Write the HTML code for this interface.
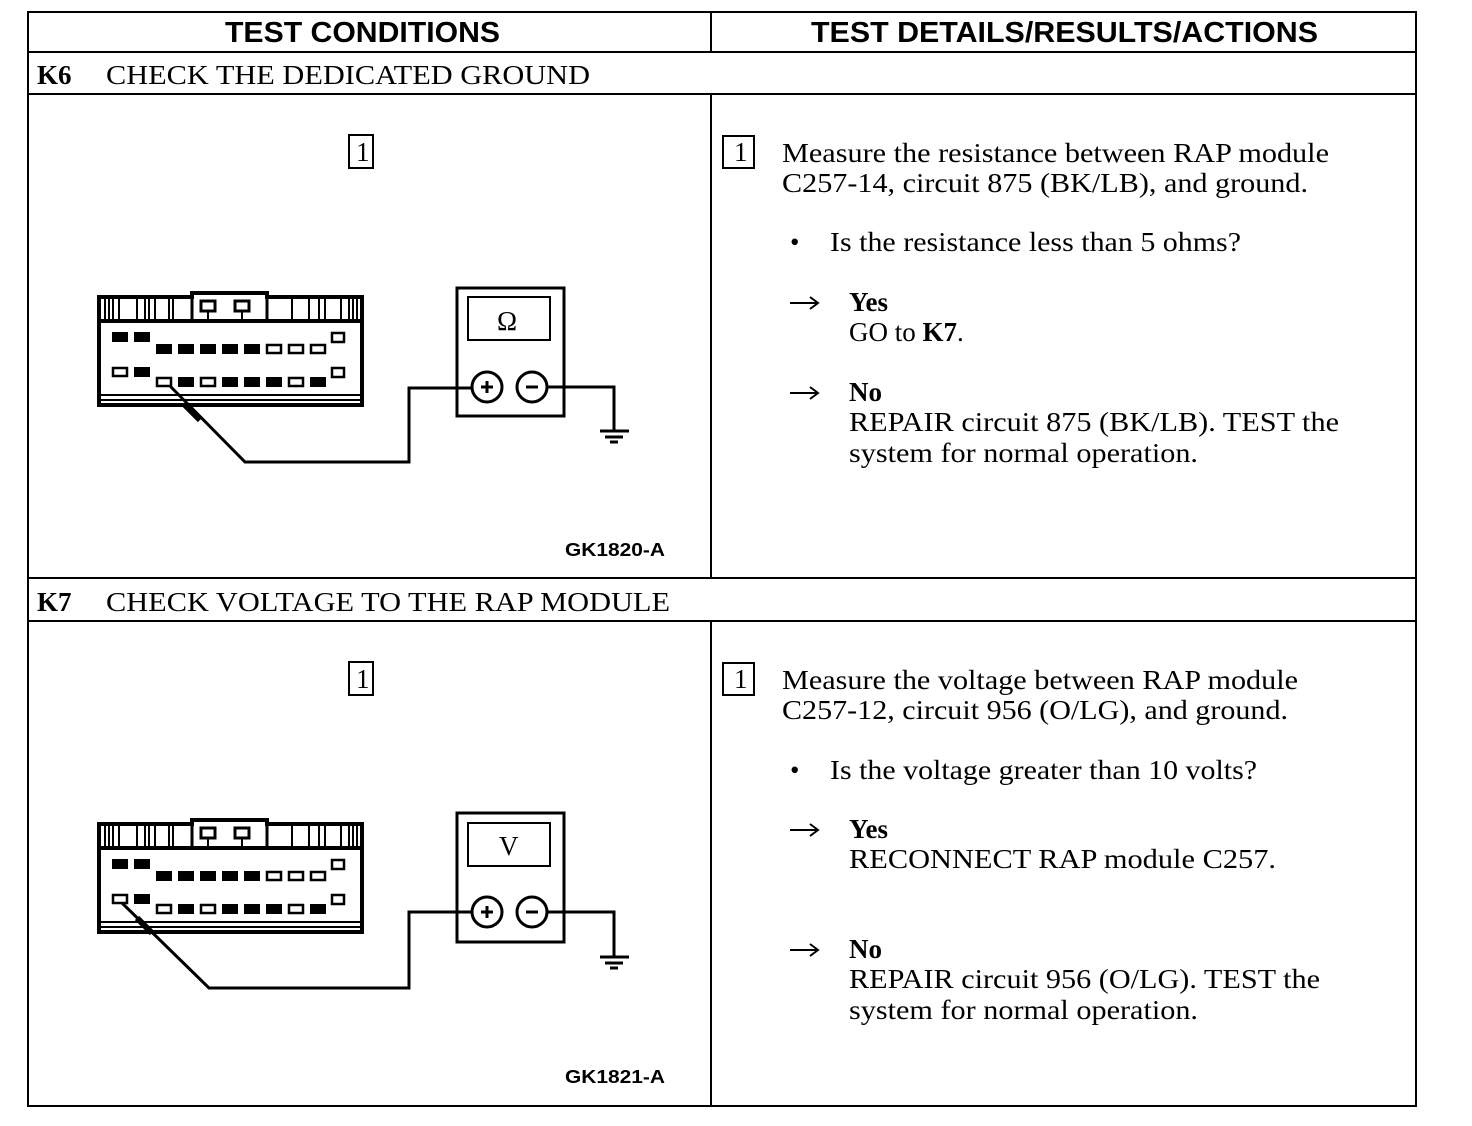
<!DOCTYPE html>
<html><head><meta charset="utf-8"><style>
html,body{margin:0;padding:0;background:#fff;}
svg{display:block;}
.s{font-family:"Liberation Serif",serif;font-size:27px;fill:#000;}
.h{font-family:"Liberation Sans",sans-serif;font-weight:bold;font-size:29px;fill:#000;}
.g{font-family:"Liberation Sans",sans-serif;font-weight:bold;font-size:18px;fill:#000;}
</style></head><body>
<svg width="1472" height="1126" viewBox="0 0 1472 1126" xmlns="http://www.w3.org/2000/svg">
<defs>
<g id="conn">
  <path d="M2 28 V4 H95 V0 H170 V4 H265 V28" fill="none" stroke="#000" stroke-width="4"/>
  <path d="M95 0 V28 M170 0 V28" stroke="#000" stroke-width="3"/>
  <rect x="104" y="8" width="14" height="10" fill="none" stroke="#000" stroke-width="3"/>
  <rect x="138" y="8" width="14" height="10" fill="none" stroke="#000" stroke-width="3"/>
  <path d="M111 18 V27 H145 V18" fill="none" stroke="#000" stroke-width="2"/>
  <path d="M8 6 V26 M12 6 V26 M16 6 V26 M22 6 V26 M40 6 V26 M48 6 V26 M52 6 V26 M58 6 V26 M72 6 V26 M76 6 V26 M195 6 V26 M212 6 V26 M222 6 V26 M228 6 V26 M244 6 V26 M252 6 V26 M256 6 V26 M260 6 V26" stroke="#000" stroke-width="2"/>
  <rect x="2" y="28" width="263" height="84" fill="none" stroke="#000" stroke-width="4"/>
  <path d="M2 102 H265 M2 107 H265" stroke="#000" stroke-width="2"/>
</g>
<g id="arr"><path d="M0 0 H28 M20 -6 L28 0 L20 6" fill="none" stroke="#000" stroke-width="2"/></g>
</defs>
<rect width="1472" height="1126" fill="#fff"/>
<g stroke="#000" stroke-width="2" fill="none">
  <rect x="28" y="12" width="1388" height="1094"/>
  <line x1="28" y1="52" x2="1416" y2="52"/>
  <line x1="28" y1="94" x2="1416" y2="94"/>
  <line x1="28" y1="578" x2="1416" y2="578"/>
  <line x1="28" y1="621" x2="1416" y2="621"/>
  <line x1="711" y1="12" x2="711" y2="52"/>
  <line x1="711" y1="94" x2="711" y2="578"/>
  <line x1="711" y1="621" x2="711" y2="1106"/>
</g>
<text class="h" x="225" y="42" textLength="275" lengthAdjust="spacingAndGlyphs">TEST CONDITIONS</text>
<text class="h" x="811" y="42" textLength="507" lengthAdjust="spacingAndGlyphs">TEST DETAILS/RESULTS/ACTIONS</text>
<text class="s" x="37" y="84" font-weight="bold">K6</text>
<text class="s" x="106" y="84" textLength="484" lengthAdjust="spacingAndGlyphs">CHECK THE DEDICATED GROUND</text>
<text class="s" x="37" y="611" font-weight="bold">K7</text>
<text class="s" x="106" y="611" textLength="564" lengthAdjust="spacingAndGlyphs">CHECK VOLTAGE TO THE RAP MODULE</text>

<!-- K6 left -->
<rect x="349" y="135" width="24" height="33" fill="none" stroke="#000" stroke-width="2"/>
<text class="s" x="356" y="161" font-size="20">1</text>
<g transform="translate(97,293)"><use href="#conn"/></g>
<g fill="#000">
  <rect x="112" y="332" width="16" height="10"/><rect x="134" y="332" width="16" height="10"/>
  <rect x="156" y="344" width="16" height="10"/><rect x="178" y="344" width="16" height="10"/><rect x="200" y="344" width="16" height="10"/><rect x="222" y="344" width="16" height="10"/><rect x="244" y="344" width="16" height="10"/>
  <rect x="134" y="367" width="16" height="10"/>
  <rect x="178" y="377" width="16" height="10"/><rect x="222" y="377" width="16" height="10"/><rect x="244" y="377" width="16" height="10"/><rect x="266" y="377" width="16" height="10"/><rect x="310" y="377" width="16" height="10"/>
</g>
<g fill="none" stroke="#000" stroke-width="2.5">
  <rect x="267" y="345" width="14" height="8"/><rect x="289" y="345" width="14" height="8"/><rect x="311" y="345" width="14" height="8"/>
  <rect x="332" y="333" width="12" height="9"/><rect x="332" y="368" width="12" height="9"/>
  <rect x="113" y="368" width="14" height="8"/>
  <rect x="157" y="378" width="14" height="8"/><rect x="201" y="378" width="14" height="8"/><rect x="289" y="378" width="14" height="8"/>
</g>
<path d="M170 386 L245 462 H409 V388 H472" fill="none" stroke="#000" stroke-width="3"/>
<path d="M185 405 L200 420" stroke="#000" stroke-width="6"/>
<rect x="457" y="288" width="107" height="128" fill="none" stroke="#000" stroke-width="3"/>
<rect x="468" y="297" width="82" height="43" fill="none" stroke="#000" stroke-width="2"/>
<text class="s" x="497" y="330" font-size="28">Ω</text>
<circle cx="487" cy="387" r="15" fill="none" stroke="#000" stroke-width="3"/>
<circle cx="532" cy="387" r="15" fill="none" stroke="#000" stroke-width="3"/>
<path d="M481 387 H493 M487 381 V393 M526 387 H538" stroke="#000" stroke-width="3"/>
<path d="M547 387 H614 V431" fill="none" stroke="#000" stroke-width="3"/>
<path d="M600 431 H629 M605 437 H623 M610 442 H618" stroke="#000" stroke-width="3"/>
<text class="g" x="565" y="556" textLength="100" lengthAdjust="spacingAndGlyphs">GK1820-A</text>

<!-- K6 right -->
<rect x="723" y="136" width="31" height="32" fill="none" stroke="#000" stroke-width="2"/>
<text class="s" x="734" y="161" font-size="20">1</text>
<text class="s" x="782" y="162" textLength="547" lengthAdjust="spacingAndGlyphs">Measure the resistance between RAP module</text>
<text class="s" x="782" y="192" textLength="526" lengthAdjust="spacingAndGlyphs">C257-14, circuit 875 (BK/LB), and ground.</text>
<text class="s" x="790" y="251">•</text>
<text class="s" x="830" y="251" textLength="411" lengthAdjust="spacingAndGlyphs">Is the resistance less than 5 ohms?</text>
<use href="#arr" transform="translate(790,303)"/>
<text class="s" x="849" y="311" font-weight="bold">Yes</text>
<text class="s" x="849" y="341">GO to <tspan font-weight="bold">K7</tspan>.</text>
<use href="#arr" transform="translate(790,393)"/>
<text class="s" x="849" y="401" font-weight="bold">No</text>
<text class="s" x="849" y="431" textLength="490" lengthAdjust="spacingAndGlyphs">REPAIR circuit 875 (BK/LB). TEST the</text>
<text class="s" x="849" y="462" textLength="349" lengthAdjust="spacingAndGlyphs">system for normal operation.</text>

<!-- K7 left -->
<rect x="349" y="662" width="24" height="33" fill="none" stroke="#000" stroke-width="2"/>
<text class="s" x="356" y="688" font-size="20">1</text>
<g transform="translate(97,820)"><use href="#conn"/></g>
<g fill="#000">
  <rect x="112" y="859" width="16" height="10"/><rect x="134" y="859" width="16" height="10"/>
  <rect x="156" y="871" width="16" height="10"/><rect x="178" y="871" width="16" height="10"/><rect x="200" y="871" width="16" height="10"/><rect x="222" y="871" width="16" height="10"/><rect x="244" y="871" width="16" height="10"/>
  <rect x="134" y="894" width="16" height="10"/>
  <rect x="178" y="904" width="16" height="10"/><rect x="222" y="904" width="16" height="10"/><rect x="244" y="904" width="16" height="10"/><rect x="266" y="904" width="16" height="10"/><rect x="310" y="904" width="16" height="10"/>
</g>
<g fill="none" stroke="#000" stroke-width="2.5">
  <rect x="267" y="872" width="14" height="8"/><rect x="289" y="872" width="14" height="8"/><rect x="311" y="872" width="14" height="8"/>
  <rect x="332" y="860" width="12" height="9"/><rect x="332" y="895" width="12" height="9"/>
  <rect x="113" y="895" width="14" height="8"/>
  <rect x="157" y="905" width="14" height="8"/><rect x="201" y="905" width="14" height="8"/><rect x="289" y="905" width="14" height="8"/>
</g>
<path d="M122 903 L209 988 H409 V912 H472" fill="none" stroke="#000" stroke-width="3"/>
<path d="M137 918 L152 933" stroke="#000" stroke-width="6"/>
<rect x="457" y="813" width="107" height="129" fill="none" stroke="#000" stroke-width="3"/>
<rect x="468" y="823" width="82" height="43" fill="none" stroke="#000" stroke-width="2"/>
<text class="s" x="499" y="855" font-size="26">V</text>
<circle cx="487" cy="912" r="15" fill="none" stroke="#000" stroke-width="3"/>
<circle cx="532" cy="912" r="15" fill="none" stroke="#000" stroke-width="3"/>
<path d="M481 912 H493 M487 906 V918 M526 912 H538" stroke="#000" stroke-width="3"/>
<path d="M547 912 H614 V957" fill="none" stroke="#000" stroke-width="3"/>
<path d="M600 957 H629 M605 963 H623 M610 968 H618" stroke="#000" stroke-width="3"/>
<text class="g" x="565" y="1083" textLength="100" lengthAdjust="spacingAndGlyphs">GK1821-A</text>

<!-- K7 right -->
<rect x="723" y="663" width="31" height="32" fill="none" stroke="#000" stroke-width="2"/>
<text class="s" x="734" y="688" font-size="20">1</text>
<text class="s" x="782" y="689" textLength="516" lengthAdjust="spacingAndGlyphs">Measure the voltage between RAP module</text>
<text class="s" x="782" y="719" textLength="506" lengthAdjust="spacingAndGlyphs">C257-12, circuit 956 (O/LG), and ground.</text>
<text class="s" x="790" y="779">•</text>
<text class="s" x="830" y="779" textLength="427" lengthAdjust="spacingAndGlyphs">Is the voltage greater than 10 volts?</text>
<use href="#arr" transform="translate(790,830)"/>
<text class="s" x="849" y="838" font-weight="bold">Yes</text>
<text class="s" x="849" y="868" textLength="427" lengthAdjust="spacingAndGlyphs">RECONNECT RAP module C257.</text>
<use href="#arr" transform="translate(790,950)"/>
<text class="s" x="849" y="958" font-weight="bold">No</text>
<text class="s" x="849" y="988" textLength="471" lengthAdjust="spacingAndGlyphs">REPAIR circuit 956 (O/LG). TEST the</text>
<text class="s" x="849" y="1019" textLength="349" lengthAdjust="spacingAndGlyphs">system for normal operation.</text>
</svg>
</body></html>
